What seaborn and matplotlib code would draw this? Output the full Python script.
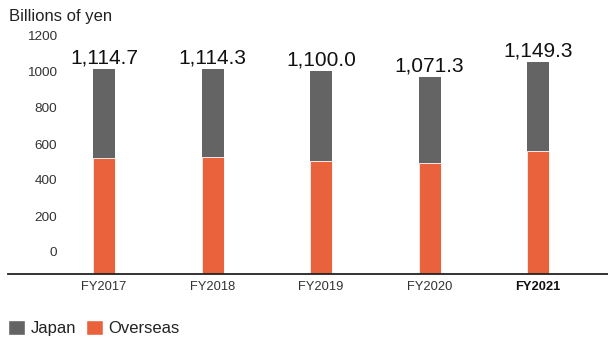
import numpy as np
import pandas as pd
import matplotlib
matplotlib.use("Agg")
import matplotlib.pyplot as plt
import seaborn as sns
from matplotlib.patches import Patch

# ---- data ----
years = ["FY2017", "FY2018", "FY2019", "FY2020", "FY2021"]
totals = [1114.7, 1114.3, 1100.0, 1071.3, 1149.3]
overseas = [628.0, 633.0, 615.0, 602.0, 666.0]
japan = [486.7, 481.3, 485.0, 469.3, 483.3]
total_labels = ["1,114.7", "1,114.3", "1,100.0", "1,071.3", "1,149.3"]
ytick_labels = [0, 200, 400, 600, 800, 1000, 1200]

df = pd.DataFrame({"year": years, "japan": japan, "overseas": overseas})
df["stack"] = df["japan"] + df["overseas"]

GRAY = "#646464"
ORANGE = "#EA623C"

sns.set_theme(style="white")
plt.rcParams["font.family"] = ["Liberation Sans", "DejaVu Sans"]

W, H, DPI = 608, 338, 100
fig = plt.figure(figsize=(W / DPI, H / DPI), dpi=DPI)
ax_left, ax_right = 8, 608
ax_top, ax_bot = 20, 274
ax = fig.add_axes([ax_left / W, 1 - ax_bot / H, (ax_right - ax_left) / W, (ax_bot - ax_top) / H])

sns.barplot(data=df, x="year", y="stack", color=GRAY, width=0.203,
            saturation=1, ax=ax, linewidth=0)
sns.barplot(data=df, x="year", y="overseas", color=ORANGE, width=0.203,
            saturation=1, ax=ax, edgecolor="white", linewidth=0.6)

ax.bar_label(ax.containers[0], labels=total_labels, padding=1,
             fontsize=15, color="#111111")

px_per_unit = 0.1843
ax.set_ylim(0, (ax_bot - ax_top) / px_per_unit)
ax.set_xlim(-0.885, 4.645)

# y tick labels (as drawn in reference, shifted against the baseline)
tick_pos = [(ax_bot - y) / px_per_unit for y in [251.7, 216, 180, 144.3, 107.7, 71, 35]]
ax.set_yticks(tick_pos)
ax.set_yticklabels([str(v) for v in ytick_labels])
ax.tick_params(axis="y", length=0, pad=-35.3, labelsize=9.7, labelcolor="#333333")
ax.tick_params(axis="x", length=0, pad=5, labelsize=9.3, labelcolor="#333333")
for lbl in ax.get_xticklabels():
    if lbl.get_text() == "FY2021":
        lbl.set_fontweight("bold")
        lbl.set_color("#111111")

ax.set_xlabel("")
ax.set_ylabel("")
for s in ["top", "right", "left"]:
    ax.spines[s].set_visible(False)
ax.spines["bottom"].set_color("#222222")
ax.spines["bottom"].set_linewidth(1.3)

fig.text(9 / W, 1 - 17 / H, "Billions of yen", fontsize=12, color="#222222",
         ha="left", va="center")

handles = [Patch(facecolor=GRAY, label="Japan"), Patch(facecolor=ORANGE, label="Overseas")]
fig.legend(handles=handles, loc="center left", bbox_to_anchor=(8 / W, 1 - 328 / H),
           ncol=2, frameon=False, fontsize=12, handlelength=1.0, handleheight=1.0,
           handletextpad=0.35, columnspacing=0.6, labelcolor="#222222",
           borderpad=0, borderaxespad=0)

fig.savefig("out.png", dpi=DPI)
